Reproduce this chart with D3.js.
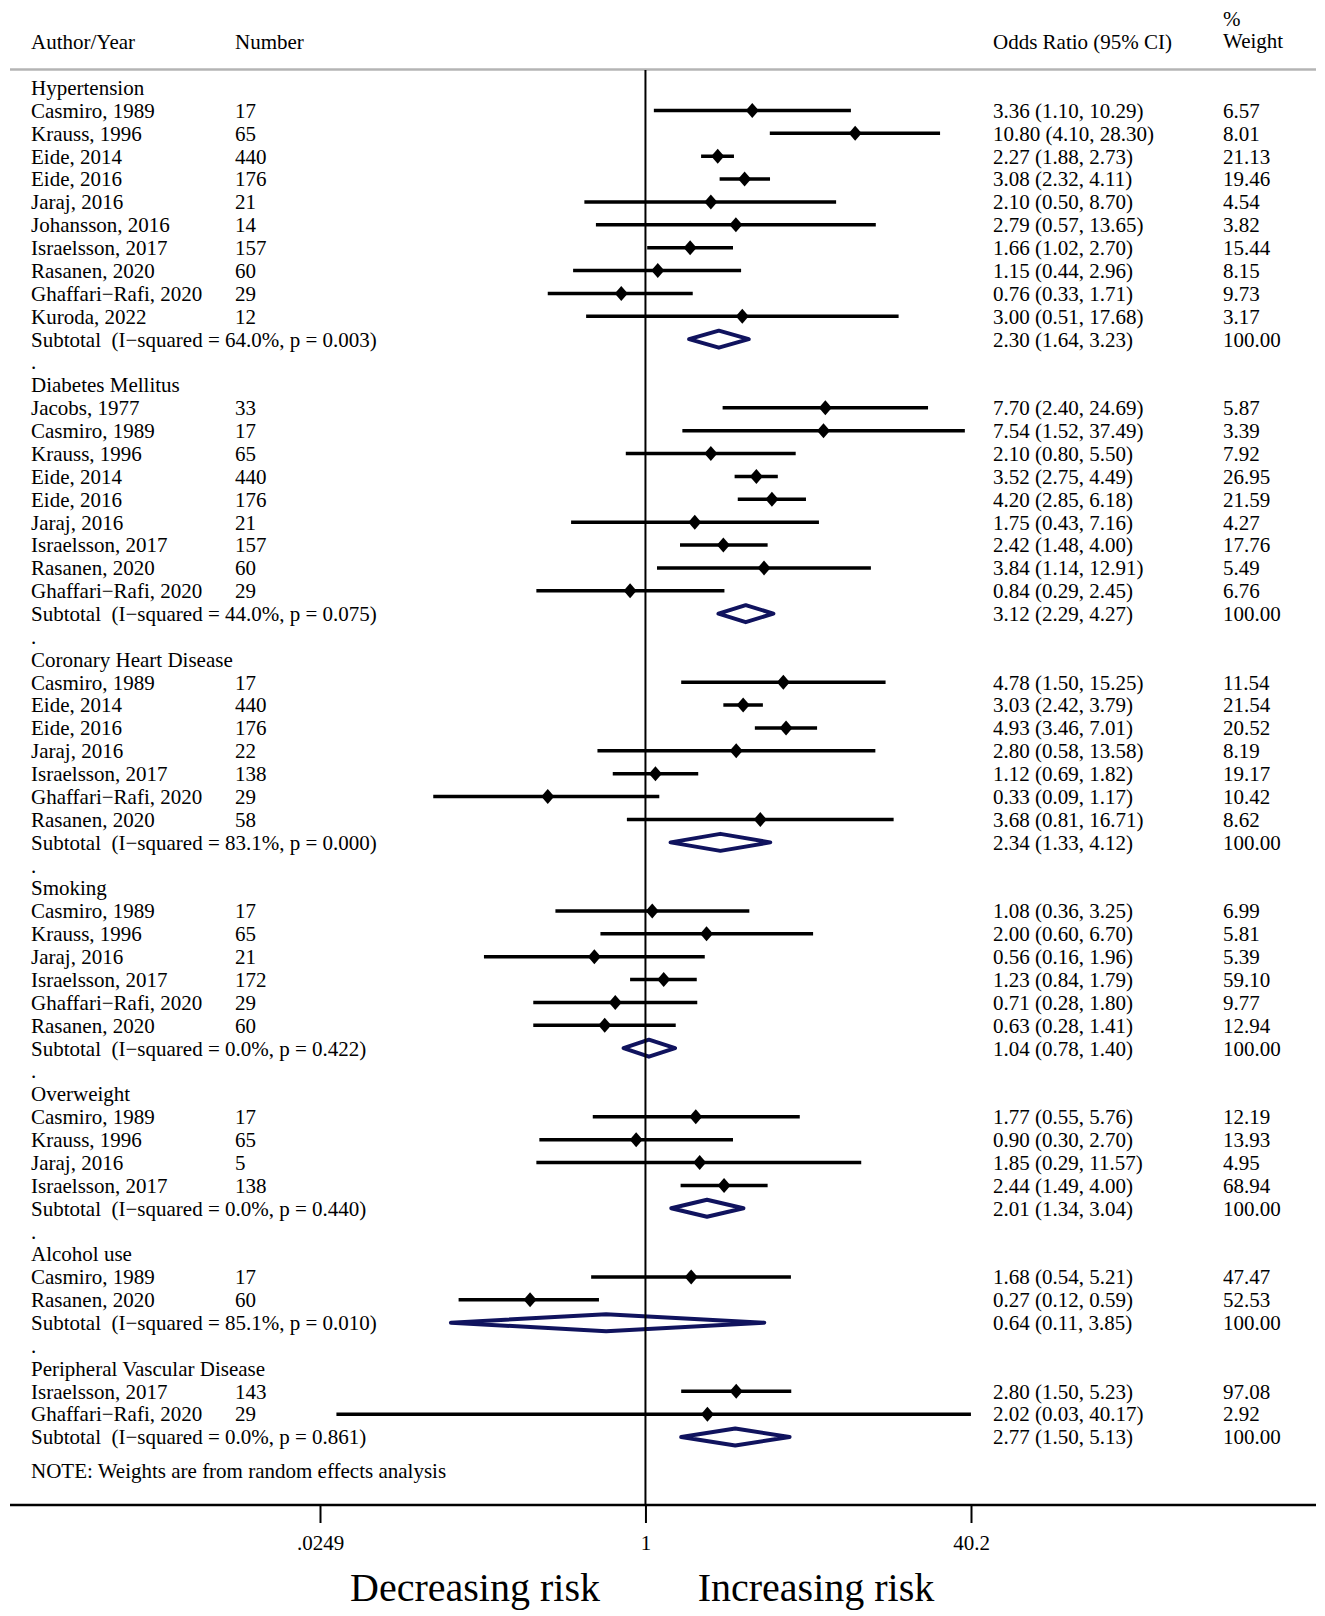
<!DOCTYPE html>
<html>
<head>
<meta charset="utf-8">
<script src="https://cdn.jsdelivr.net/npm/d3@7"></script>
<style>
  body { margin: 0; background: #fff; }
  svg text { font-family: "Liberation Serif", "Times New Roman", serif; fill: #000; }
</style>
</head>
<body>
<svg id="chart"></svg>
<script>
// subgroups
const groups = [
  "Hypertension", "Diabetes Mellitus", "Coronary Heart Disease", "Smoking",
  "Overweight", "Alcohol use", "Peripheral Vascular Disease"
];
const heterogeneity = [
  "I−squared = 64.0%, p = 0.003", "I−squared = 44.0%, p = 0.075",
  "I−squared = 83.1%, p = 0.000", "I−squared = 0.0%, p = 0.422",
  "I−squared = 0.0%, p = 0.440", "I−squared = 85.1%, p = 0.010",
  "I−squared = 0.0%, p = 0.861"
];
const pooledOR = [2.30, 3.12, 2.34, 1.04, 2.01, 0.64, 2.77];
const pooledLow = [1.64, 2.29, 1.33, 0.78, 1.34, 0.11, 1.50];
const pooledHigh = [3.23, 4.27, 4.12, 1.40, 3.04, 3.85, 5.13];

// studies
const studyGroup = [
  0, 0, 0, 0, 0, 0, 0, 0, 0, 0,
  1, 1, 1, 1, 1, 1, 1, 1, 1,
  2, 2, 2, 2, 2, 2, 2,
  3, 3, 3, 3, 3, 3,
  4, 4, 4, 4,
  5, 5,
  6, 6
];
const studyAuthor = [
  "Casmiro, 1989", "Krauss, 1996", "Eide, 2014", "Eide, 2016", "Jaraj, 2016",
  "Johansson, 2016", "Israelsson, 2017", "Rasanen, 2020", "Ghaffari−Rafi, 2020", "Kuroda, 2022",
  "Jacobs, 1977", "Casmiro, 1989", "Krauss, 1996", "Eide, 2014", "Eide, 2016",
  "Jaraj, 2016", "Israelsson, 2017", "Rasanen, 2020", "Ghaffari−Rafi, 2020",
  "Casmiro, 1989", "Eide, 2014", "Eide, 2016", "Jaraj, 2016", "Israelsson, 2017",
  "Ghaffari−Rafi, 2020", "Rasanen, 2020",
  "Casmiro, 1989", "Krauss, 1996", "Jaraj, 2016", "Israelsson, 2017",
  "Ghaffari−Rafi, 2020", "Rasanen, 2020",
  "Casmiro, 1989", "Krauss, 1996", "Jaraj, 2016", "Israelsson, 2017",
  "Casmiro, 1989", "Rasanen, 2020",
  "Israelsson, 2017", "Ghaffari−Rafi, 2020"
];
const studyN = [
  17, 65, 440, 176, 21, 14, 157, 60, 29, 12,
  33, 17, 65, 440, 176, 21, 157, 60, 29,
  17, 440, 176, 22, 138, 29, 58,
  17, 65, 21, 172, 29, 60,
  17, 65, 5, 138,
  17, 60,
  143, 29
];
const studyOR = [
  3.36, 10.80, 2.27, 3.08, 2.10, 2.79, 1.66, 1.15, 0.76, 3.00,
  7.70, 7.54, 2.10, 3.52, 4.20, 1.75, 2.42, 3.84, 0.84,
  4.78, 3.03, 4.93, 2.80, 1.12, 0.33, 3.68,
  1.08, 2.00, 0.56, 1.23, 0.71, 0.63,
  1.77, 0.90, 1.85, 2.44,
  1.68, 0.27,
  2.80, 2.02
];
const studyLow = [
  1.10, 4.10, 1.88, 2.32, 0.50, 0.57, 1.02, 0.44, 0.33, 0.51,
  2.40, 1.52, 0.80, 2.75, 2.85, 0.43, 1.48, 1.14, 0.29,
  1.50, 2.42, 3.46, 0.58, 0.69, 0.09, 0.81,
  0.36, 0.60, 0.16, 0.84, 0.28, 0.28,
  0.55, 0.30, 0.29, 1.49,
  0.54, 0.12,
  1.50, 0.03
];
const studyHigh = [
  10.29, 28.30, 2.73, 4.11, 8.70, 13.65, 2.70, 2.96, 1.71, 17.68,
  24.69, 37.49, 5.50, 4.49, 6.18, 7.16, 4.00, 12.91, 2.45,
  15.25, 3.79, 7.01, 13.58, 1.82, 1.17, 16.71,
  3.25, 6.70, 1.96, 1.79, 1.80, 1.41,
  5.76, 2.70, 11.57, 4.00,
  5.21, 0.59,
  5.23, 40.17
];
const studyWeight = [
  6.57, 8.01, 21.13, 19.46, 4.54, 3.82, 15.44, 8.15, 9.73, 3.17,
  5.87, 3.39, 7.92, 26.95, 21.59, 4.27, 17.76, 5.49, 6.76,
  11.54, 21.54, 20.52, 8.19, 19.17, 10.42, 8.62,
  6.99, 5.81, 5.39, 59.10, 9.77, 12.94,
  12.19, 13.93, 4.95, 68.94,
  47.47, 52.53,
  97.08, 2.92
];

// axis
const tickValues = [0.0249, 1, 40.2];
const tickLabels = [".0249", "1", "40.2"];

const width = 1325;
const height = 1616;
const fontSize = 21;
const col = { author: 31, number: 235, or: 993, weight: 1223 };

const svg = d3.select("#chart").attr("width", width).attr("height", height);

// build the row list
const rows = [];
groups.forEach((g, gi) => {
  if (gi > 0) rows.push({ type: "blank" });
  rows.push({ type: "header", label: g });
  studyGroup.forEach((sg, i) => {
    if (sg !== gi) return;
    rows.push({
      type: "study", label: studyAuthor[i], n: studyN[i],
      or: studyOR[i], lo: studyLow[i], hi: studyHigh[i], w: studyWeight[i]
    });
  });
  rows.push({
    type: "subtotal", label: `Subtotal\u00a0 (${heterogeneity[gi]})`,
    or: pooledOR[gi], lo: pooledLow[gi], hi: pooledHigh[gi], w: 100
  });
});
rows.forEach((r, i) => (r.idx = i));

const x = d3.scaleLog().domain([0.0249, 40.2]).range([320, 971]);
const y = d3.scaleLinear().domain([0, rows.length - 1]).range([87.6, 1437]);
const f2 = d3.format(".2f");

const axisY = 1505;

// header
const head = svg.append("g").attr("font-size", fontSize);
head.append("text").attr("x", col.author).attr("y", 42).attr("dy", "0.35em").text("Author/Year");
head.append("text").attr("x", col.number).attr("y", 42).attr("dy", "0.35em").text("Number");
head.append("text").attr("x", col.or).attr("y", 42).attr("dy", "0.35em").text("Odds Ratio (95% CI)");
head.append("text").attr("x", col.weight).attr("y", 19).attr("dy", "0.35em").text("%");
head.append("text").attr("x", col.weight).attr("y", 41).attr("dy", "0.35em").text("Weight");

svg.append("line")
  .attr("x1", 10).attr("x2", 1316).attr("y1", 69.5).attr("y2", 69.5)
  .attr("stroke", "#b4b4b4").attr("stroke-width", 2.5);

// confidence interval lines
const studies = rows.filter((r) => r.type === "study");
const subtotals = rows.filter((r) => r.type === "subtotal");

svg.append("g")
  .selectAll("line")
  .data(studies)
  .join("line")
  .attr("x1", (d) => x(d.lo))
  .attr("x2", (d) => x(d.hi))
  .attr("y1", (d) => y(d.idx))
  .attr("y2", (d) => y(d.idx))
  .attr("stroke", "#000")
  .attr("stroke-width", 3.5);

// pooled diamonds
const dh = 8.5;
svg.append("g")
  .selectAll("polygon")
  .data(subtotals)
  .join("polygon")
  .attr("points", (d) => {
    const cy = y(d.idx);
    return [
      [x(d.lo), cy], [x(d.or), cy - dh], [x(d.hi), cy], [x(d.or), cy + dh]
    ].map((p) => p.join(",")).join(" ");
  })
  .attr("fill", "none")
  .attr("stroke", "#10135e")
  .attr("stroke-width", 4)
  .attr("stroke-linejoin", "round");

// line of no effect
svg.append("line")
  .attr("x1", x(1)).attr("x2", x(1))
  .attr("y1", 70).attr("y2", axisY)
  .attr("stroke", "#000").attr("stroke-width", 2);

// point estimates
svg.append("g")
  .selectAll("polygon")
  .data(studies)
  .join("polygon")
  .attr("points", (d) => {
    const cx = x(d.or);
    const cy = y(d.idx);
    return `${cx - 6.5},${cy} ${cx},${cy - 7.5} ${cx + 6.5},${cy} ${cx},${cy + 7.5}`;
  })
  .attr("fill", "#000");

// text columns
const txt = svg.append("g").attr("font-size", fontSize);

txt.selectAll("text.label")
  .data(rows)
  .join("text")
  .attr("class", "label")
  .attr("x", col.author)
  .attr("y", (d) => y(d.idx))
  .attr("dy", "0.35em")
  .text((d) => (d.type === "blank" ? "." : d.label));

txt.selectAll("text.num")
  .data(studies)
  .join("text")
  .attr("class", "num")
  .attr("x", col.number)
  .attr("y", (d) => y(d.idx))
  .attr("dy", "0.35em")
  .text((d) => d.n);

const estRows = rows.filter((r) => r.type === "study" || r.type === "subtotal");

txt.selectAll("text.or")
  .data(estRows)
  .join("text")
  .attr("class", "or")
  .attr("x", col.or)
  .attr("y", (d) => y(d.idx))
  .attr("dy", "0.35em")
  .text((d) => `${f2(d.or)} (${f2(d.lo)}, ${f2(d.hi)})`);

txt.selectAll("text.w")
  .data(estRows)
  .join("text")
  .attr("class", "w")
  .attr("x", col.weight)
  .attr("y", (d) => y(d.idx))
  .attr("dy", "0.35em")
  .text((d) => f2(d.w));

txt.append("text")
  .attr("x", col.author)
  .attr("y", y(rows.length - 1) + 34)
  .attr("dy", "0.35em")
  .text("NOTE: Weights are from random effects analysis");

// x axis
svg.append("line")
  .attr("x1", 10).attr("x2", 1316).attr("y1", axisY).attr("y2", axisY)
  .attr("stroke", "#000").attr("stroke-width", 2.5);

const axis = svg.append("g")
  .attr("transform", `translate(0,${axisY})`)
  .call(
    d3.axisBottom(x)
      .tickValues(tickValues)
      .tickFormat((d, i) => tickLabels[i])
      .tickSize(18)
      .tickPadding(12)
  );
axis.select(".domain").remove();
axis.selectAll(".tick line").attr("stroke", "#000").attr("stroke-width", 2);
axis.selectAll(".tick text")
  .attr("font-size", fontSize)
  .attr("font-family", "Liberation Serif, Times New Roman, serif")
  .attr("fill", "#000");

// direction labels
svg.append("text")
  .attr("x", 475).attr("y", 1587).attr("dy", "0.35em")
  .attr("text-anchor", "middle").attr("font-size", 40)
  .text("Decreasing risk");
svg.append("text")
  .attr("x", 816).attr("y", 1587).attr("dy", "0.35em")
  .attr("text-anchor", "middle").attr("font-size", 40)
  .text("Increasing risk");
</script>
</body>
</html>
